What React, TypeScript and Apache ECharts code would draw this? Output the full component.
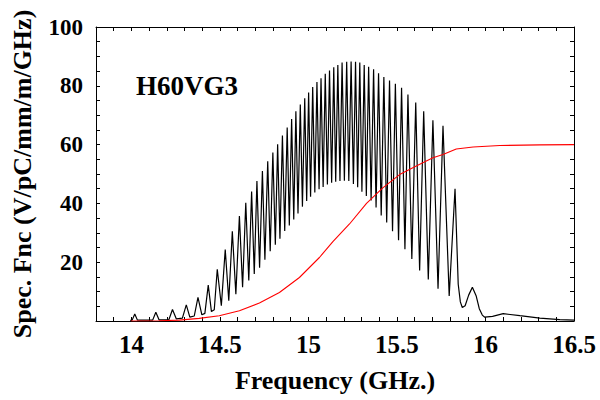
import React, { useEffect, useRef } from "react";
import * as echarts from "echarts";

// Black spectral function: resonance peaks (GHz, V/pC/mm/m/GHz)
const peakGHz = [
  14.019, 14.138, 14.232, 14.31, 14.376, 14.434, 14.485, 14.53, 14.57, 14.61,
  14.646, 14.679, 14.709, 14.74, 14.77, 14.799, 14.826, 14.853, 14.88, 14.905,
  14.929, 14.954, 14.979, 15.001, 15.024, 15.048, 15.071, 15.095, 15.119, 15.143,
  15.166, 15.19, 15.216, 15.241, 15.266, 15.29, 15.315, 15.34, 15.368, 15.396,
  15.426, 15.458, 15.491, 15.526, 15.562, 15.606, 15.651, 15.703, 15.76, 15.828,
  15.926, 16.1,
];
const peakVal = [
  2.4, 3.0, 3.9, 5.5, 8.0, 12.2, 17.6, 24.3, 30.5, 35.7,
  40.2, 44.0, 47.6, 51.0, 54.3, 57.3, 60.1, 63.1, 65.8, 68.7,
  71.3, 73.6, 75.8, 77.7, 79.6, 81.3, 82.6, 84.1, 85.2, 86.3,
  87.1, 87.9, 88.2, 88.3, 88.2, 87.9, 87.1, 86.5, 85.6, 84.3,
  83.0, 81.8, 80.7, 79.3, 77.0, 74.3, 71.3, 68.3, 66.4, 45.0,
  11.5, 2.5,
];
// Black spectral function: valleys / baseline / flanks between the peaks
const valleyGHz = [
  13.993, 14.004, 14.034, 14.12, 14.156, 14.212, 14.254, 14.288, 14.33, 14.355,
  14.398, 14.415, 14.452, 14.468, 14.508, 14.55, 14.59, 14.628, 14.663, 14.694,
  14.724, 14.754, 14.784, 14.813, 14.839, 14.866, 14.892, 14.917, 14.941, 14.966,
  14.99, 15.012, 15.036, 15.06, 15.083, 15.107, 15.131, 15.154, 15.178, 15.203,
  15.228, 15.254, 15.278, 15.302, 15.327, 15.354, 15.382, 15.411, 15.442, 15.475,
  15.509, 15.545, 15.584, 15.628, 15.677, 15.732, 15.795, 15.846, 15.858, 15.869,
  15.885, 15.905, 15.947, 15.965, 15.982, 15.996, 16.04, 16.194, 16.307, 16.42,
  16.5,
];
const valleyVal = [
  0.2, 0.3, 0.3, 0.3, 0.4, 0.5, 0.7, 1.0, 1.3, 1.7,
  2.1, 2.6, 3.2, 3.8, 5.2, 6.9, 9.1, 11.5, 13.8, 16.0,
  18.1, 20.8, 23.7, 25.9, 28.0, 30.6, 32.5, 34.5, 36.6, 38.9,
  40.8, 42.3, 43.7, 44.8, 45.6, 46.4, 47.0, 47.4, 47.6, 47.7,
  47.6, 46.6, 45.5, 44.0, 42.5, 41.0, 38.6, 35.9, 33.5, 30.5,
  27.5, 24.4, 21.1, 17.2, 14.1, 11.0, 8.5, 12.5, 6.5, 4.6,
  5.2, 8.8, 8.6, 4.2, 2.0, 1.3, 1.6, 1.8, 1.0, 0.5,
  0.3,
];

// Red cumulative curve
const cumGHz = [
  13.997, 14.157, 14.27, 14.383, 14.496, 14.61, 14.723, 14.836, 14.949, 15.062,
  15.138, 15.232, 15.328, 15.42, 15.515, 15.609, 15.703, 15.76, 15.835, 15.93,
  16.081, 16.307, 16.5,
];
const cumVal = [
  0, 0.1, 0.3, 0.9, 1.8, 3.5, 6.1, 9.7, 14.8, 21.6,
  27.0, 33.0, 40.0, 45.3, 49.8, 52.7, 55.5, 56.6, 58.5, 59.2,
  59.7, 59.9, 60.0,
];

const xTickLabels = [14, 14.5, 15, 15.5, 16, 16.5];
const yTickLabels = [20, 40, 60, 80, 100];

const FONT = "'Liberation Serif', 'Times New Roman', serif";

export default function App() {
  const ref = useRef<HTMLDivElement>(null);

  useEffect(() => {
    if (!ref.current) return;
    const chart = echarts.init(ref.current, undefined, { renderer: "svg" });

    const specPts: [number, number][] = [];
    peakGHz.forEach((f, i) => specPts.push([f, peakVal[i]]));
    valleyGHz.forEach((f, i) => specPts.push([f, valleyVal[i]]));
    specPts.sort((a, b) => a[0] - b[0]);
    const cumPts = cumGHz.map((f, i) => [f, cumVal[i]]);

    const near = (v: number, list: number[]) =>
      list.some((t) => Math.abs(t - v) < 1e-6);

    const lineStyle = { color: "#000", width: 1 };
    const tickStyle = { inside: true, length: 4, lineStyle: { color: "#000", width: 1 } };

    chart.setOption({
      animation: false,
      backgroundColor: "#fff",
      grid: { left: 96, right: 26, top: 27, bottom: 79 },
      xAxis: [
        {
          type: "value",
          min: 13.8,
          max: 16.5,
          interval: 0.1,
          position: "bottom",
          axisLine: { show: true, onZero: false, lineStyle },
          axisTick: tickStyle,
          splitLine: { show: false },
          axisLabel: {
            margin: 11,
            fontSize: 25,
            fontWeight: "bold",
            fontFamily: FONT,
            color: "#000",
            formatter: (v: number) => (near(v, xTickLabels) ? String(Math.round(v * 10) / 10) : ""),
          },
          name: "Frequency (GHz.)",
          nameLocation: "middle",
          nameGap: 46,
          nameTextStyle: { fontSize: 26, fontWeight: "bold", fontFamily: FONT, color: "#000" },
        },
        {
          type: "value",
          min: 13.8,
          max: 16.5,
          interval: 0.1,
          position: "top",
          axisLine: { show: true, onZero: false, lineStyle },
          axisTick: tickStyle,
          splitLine: { show: false },
          axisLabel: { show: false },
        },
      ],
      yAxis: [
        {
          type: "value",
          min: 0,
          max: 100,
          interval: 5,
          position: "left",
          axisLine: { show: true, onZero: false, lineStyle },
          axisTick: tickStyle,
          splitLine: { show: false },
          axisLabel: {
            margin: 13,
            fontSize: 23,
            fontWeight: "bold",
            fontFamily: FONT,
            color: "#000",
            formatter: (v: number) => (near(v, yTickLabels) ? String(Math.round(v)) : ""),
          },
          name: "Spec. Fnc (V/pC/mm/m/GHz)",
          nameLocation: "middle",
          nameGap: 61,
          nameRotate: 90,
          nameTextStyle: { fontSize: 26, fontWeight: "bold", fontFamily: FONT, color: "#000" },
        },
        {
          type: "value",
          min: 0,
          max: 100,
          interval: 5,
          position: "right",
          axisLine: { show: true, onZero: false, lineStyle },
          axisTick: tickStyle,
          splitLine: { show: false },
          axisLabel: { show: false },
        },
      ],
      graphic: [
        {
          type: "text",
          left: 136,
          top: 72,
          style: {
            text: "H60VG3",
            fontSize: 27,
            fontWeight: "bold",
            fontFamily: FONT,
            fill: "#000",
          },
        },
      ],
      series: [
        {
          type: "line",
          data: specPts,
          xAxisIndex: 0,
          yAxisIndex: 0,
          symbol: "none",
          lineStyle: { color: "#000", width: 1.2 },
          clip: true,
        },
        {
          type: "line",
          data: cumPts,
          xAxisIndex: 0,
          yAxisIndex: 0,
          symbol: "none",
          lineStyle: { color: "#ff0000", width: 1.1 },
          clip: true,
        },
      ],
    });

    return () => chart.dispose();
  }, []);

  return <div ref={ref} style={{ width: 600, height: 400, position: "fixed", left: 0, top: 0 }} />;
}
